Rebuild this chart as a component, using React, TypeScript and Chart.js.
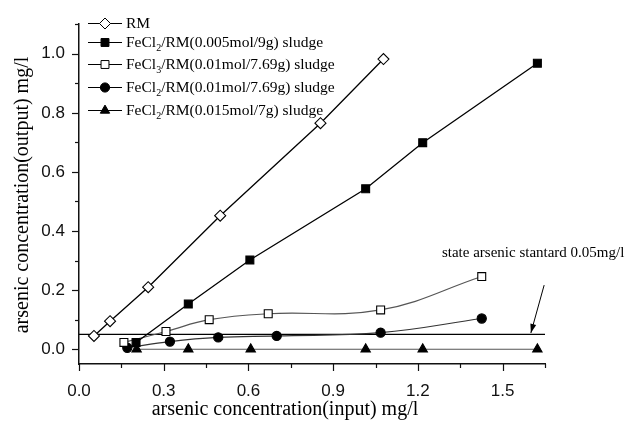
import React, { useEffect, useRef } from 'react';
import { Chart, registerables } from 'chart.js';

Chart.register(...registerables);

// ---- data ----
const rmX = [0.053, 0.11, 0.245, 0.5, 0.855, 1.078];
const rmY = [0.045, 0.095, 0.21, 0.452, 0.765, 0.982];

const fe005X = [0.202, 0.387, 0.605, 1.015, 1.217, 1.623];
const fe005Y = [0.023, 0.153, 0.302, 0.543, 0.699, 0.968];

const fe3X = [0.159, 0.308, 0.461, 0.67, 1.068, 1.426];
const fe3Y = [0.023, 0.06, 0.1, 0.12, 0.133, 0.246];

const fe01X = [0.171, 0.322, 0.493, 0.7, 1.068, 1.426];
const fe01Y = [0.005, 0.026, 0.04, 0.045, 0.056, 0.104];

const fe015X = [0.204, 0.387, 0.608, 1.015, 1.217, 1.623];
const fe015Y = [0, 0, 0, 0, 0, 0];

const standardX = [0, 1.65];
const standardY = [0.05, 0.05];

const xTicks = [0, 0.15, 0.3, 0.45, 0.6, 0.75, 0.9, 1.05, 1.2, 1.35, 1.5, 1.65];
const xLabelTicks = [0, 0.3, 0.6, 0.9, 1.2, 1.5];
const yTicks = [0, 0.1, 0.2, 0.3, 0.4, 0.5, 0.6, 0.7, 0.8, 0.9, 1.0, 1.1];
const yLabelTicks = [0, 0.2, 0.4, 0.6, 0.8, 1.0];

const xTitle = 'arsenic concentration(input) mg/l';
const yTitle = 'arsenic concentration(output) mg/l';
const annotationText = 'state arsenic stantard 0.05mg/l';
const annotationAnchor = [1.285, 0.325];
const arrowFrom = [1.647, 0.217];
const arrowTo = [1.6, 0.055];

const legendItems = [
  { pre: 'RM', sub: '', post: '' },
  { pre: 'FeCl', sub: '2', post: '/RM(0.005mol/9g) sludge' },
  { pre: 'FeCl', sub: '3', post: '/RM(0.01mol/7.69g) sludge' },
  { pre: 'FeCl', sub: '2', post: '/RM(0.01mol/7.69g) sludge' },
  { pre: 'FeCl', sub: '2', post: '/RM(0.015mol/7g) sludge' },
];

const pts = (xs: number[], ys: number[]) => xs.map((x, i) => ({ x, y: ys[i] }));

const SERIF = '"Liberation Serif", "Times New Roman", serif';
const SANS = '"Liberation Sans", Arial, sans-serif';

function drawMarker(ctx: CanvasRenderingContext2D, style: string, r: number, x: number, y: number) {
  if (style === 'rectRot') {
    ctx.moveTo(x - r, y);
    ctx.lineTo(x, y - r);
    ctx.lineTo(x + r, y);
    ctx.lineTo(x, y + r);
    ctx.closePath();
  } else if (style === 'rect') {
    const s = Math.SQRT1_2 * r;
    ctx.rect(x - s, y - s, 2 * s, 2 * s);
  } else if (style === 'circle') {
    ctx.arc(x, y, r, 0, Math.PI * 2);
  } else if (style === 'triangle') {
    for (let k = 0; k < 3; k++) {
      const a = (k * 2 * Math.PI) / 3;
      const px = x + Math.sin(a) * r;
      const py = y - Math.cos(a) * r;
      if (k === 0) ctx.moveTo(px, py);
      else ctx.lineTo(px, py);
    }
    ctx.closePath();
  }
}

const overlay = {
  id: 'overlay',
  afterDraw(chart: any) {
    const { ctx, chartArea } = chart;
    const xs = chart.scales.x;
    const ys = chart.scales.y;
    ctx.save();
    ctx.strokeStyle = '#111';
    ctx.lineWidth = 1.2;
    // tick marks
    xTicks.forEach((v) => {
      const px = Math.round(xs.getPixelForValue(v)) + 0.5;
      const len = xLabelTicks.includes(v) ? 7 : 4;
      ctx.beginPath();
      ctx.moveTo(px, chartArea.bottom);
      ctx.lineTo(px, chartArea.bottom + len);
      ctx.stroke();
    });
    yTicks.forEach((v) => {
      const py = Math.round(ys.getPixelForValue(v)) + 0.5;
      const len = yLabelTicks.includes(v) ? 7 : 4;
      ctx.beginPath();
      ctx.moveTo(chartArea.left, py);
      ctx.lineTo(chartArea.left - len, py);
      ctx.stroke();
    });

    // axis titles
    ctx.fillStyle = '#000';
    ctx.font = `20px ${SERIF}`;
    ctx.textAlign = 'center';
    ctx.textBaseline = 'middle';
    ctx.fillText(xTitle, 285, 410);
    ctx.save();
    ctx.translate(23, 195);
    ctx.rotate(-Math.PI / 2);
    ctx.fillText(yTitle, 0, 0);
    ctx.restore();

    // legend
    const rowsY = [23, 42, 64, 87, 110];
    chart.data.datasets.slice(0, 5).forEach((ds: any, i: number) => {
      const yy = rowsY[i];
      ctx.strokeStyle = '#000';
      ctx.lineWidth = 1.2;
      ctx.beginPath();
      ctx.moveTo(88, yy + 0.5);
      ctx.lineTo(122, yy + 0.5);
      ctx.stroke();
      ctx.fillStyle = ds.pointBackgroundColor;
      ctx.lineWidth = 1;
      ctx.beginPath();
      drawMarker(ctx, ds.pointStyle, ds.pointRadius, 105, yy + 0.5);
      ctx.fill();
      ctx.stroke();

      const it = legendItems[i];
      ctx.fillStyle = '#000';
      ctx.textAlign = 'left';
      ctx.textBaseline = 'middle';
      ctx.font = `15.5px ${SERIF}`;
      let tx = 126;
      ctx.fillText(it.pre, tx, yy + 1);
      tx += ctx.measureText(it.pre).width;
      if (it.sub) {
        ctx.font = `10px ${SERIF}`;
        ctx.fillText(it.sub, tx, yy + 6);
        tx += ctx.measureText(it.sub).width;
        ctx.font = `15.5px ${SERIF}`;
      }
      if (it.post) ctx.fillText(it.post, tx, yy + 1);
    });

    // annotation
    ctx.font = `15px ${SERIF}`;
    ctx.fillStyle = '#000';
    ctx.textAlign = 'left';
    ctx.textBaseline = 'middle';
    ctx.fillText(annotationText, xs.getPixelForValue(annotationAnchor[0]), ys.getPixelForValue(annotationAnchor[1]));
    const ax0 = xs.getPixelForValue(arrowFrom[0]);
    const ay0 = ys.getPixelForValue(arrowFrom[1]);
    const ax1 = xs.getPixelForValue(arrowTo[0]);
    const ay1 = ys.getPixelForValue(arrowTo[1]);
    ctx.strokeStyle = '#000';
    ctx.lineWidth = 1;
    ctx.beginPath();
    ctx.moveTo(ax0, ay0);
    ctx.lineTo(ax1, ay1);
    ctx.stroke();
    const ang = Math.atan2(ay1 - ay0, ax1 - ax0);
    const hl = 9;
    const hw = 3;
    ctx.beginPath();
    ctx.moveTo(ax1, ay1);
    ctx.lineTo(ax1 - hl * Math.cos(ang) + hw * Math.sin(ang), ay1 - hl * Math.sin(ang) - hw * Math.cos(ang));
    ctx.lineTo(ax1 - hl * Math.cos(ang) - hw * Math.sin(ang), ay1 - hl * Math.sin(ang) + hw * Math.cos(ang));
    ctx.closePath();
    ctx.fill();
    ctx.restore();
  },
};

export default function App() {
  const ref = useRef<HTMLCanvasElement | null>(null);
  useEffect(() => {
    document.body.style.margin = '0';
    if (!ref.current) return;
    const mk = (data: any[], style: string, r: number, fill: string, line: string, lw: number, curved: boolean) => ({
      data,
      pointStyle: style,
      pointRadius: r,
      pointHoverRadius: r,
      pointBackgroundColor: fill,
      pointBorderColor: '#000',
      pointBorderWidth: 1.1,
      borderColor: line,
      borderWidth: lw,
      tension: curved ? 0.4 : 0,
      showLine: true,
      clip: false,
    });
    const chart = new Chart(ref.current, {
      type: 'scatter',
      data: {
        datasets: [
          mk(pts(rmX, rmY), 'rectRot', 5.5, '#fff', '#000', 1.3, false),
          mk(pts(fe005X, fe005Y), 'rect', 5.6, '#000', '#000', 1.3, false),
          mk(pts(fe3X, fe3Y), 'rect', 5.6, '#fff', '#555', 1.2, true),
          mk(pts(fe01X, fe01Y), 'circle', 4.6, '#000', '#333', 1.2, true),
          mk(pts(fe015X, fe015Y), 'triangle', 5.4, '#000', '#555', 1.2, false),
          {
            data: pts(standardX, standardY),
            pointRadius: 0,
            borderColor: '#000',
            borderWidth: 1.2,
            showLine: true,
            clip: false,
          },
        ] as any,
      },
      options: {
        animation: false,
        responsive: false,
        devicePixelRatio: 1,
        layout: { padding: { top: 15, right: 83, left: 0, bottom: 0 } },
        plugins: { legend: { display: false }, tooltip: { enabled: false }, title: { display: false } },
        events: [],
        scales: {
          x: {
            type: 'linear',
            min: 0,
            max: 1.65,
            afterBuildTicks: (s: any) => {
              s.ticks = xTicks.map((v) => ({ value: v }));
            },
            afterFit: (s: any) => {
              s.height = 69;
            },
            ticks: {
              autoSkip: false,
              maxRotation: 0,
              padding: 17,
              color: '#111',
              font: { family: SANS, size: 17 },
              callback: (v: any) => (xLabelTicks.includes(v) ? Number(v).toFixed(1) : ''),
            },
            grid: { display: false, drawTicks: false },
            border: { display: true, color: '#111', width: 1.5 },
          },
          y: {
            type: 'linear',
            min: -0.05,
            max: 1.1,
            afterBuildTicks: (s: any) => {
              s.ticks = yTicks.map((v) => ({ value: v }));
            },
            afterFit: (s: any) => {
              s.width = 79;
            },
            ticks: {
              autoSkip: false,
              padding: 14,
              color: '#111',
              font: { family: SANS, size: 17 },
              callback: (v: any) => (yLabelTicks.includes(v) ? Number(v).toFixed(1) : ''),
            },
            grid: { display: false, drawTicks: false },
            border: { display: true, color: '#111', width: 1.5 },
          },
        },
      } as any,
      plugins: [overlay],
    });
    return () => chart.destroy();
  }, []);
  return (
    <div style={{ width: 628, height: 433, background: '#fff' }}>
      <canvas ref={ref} width={628} height={433} />
    </div>
  );
}
